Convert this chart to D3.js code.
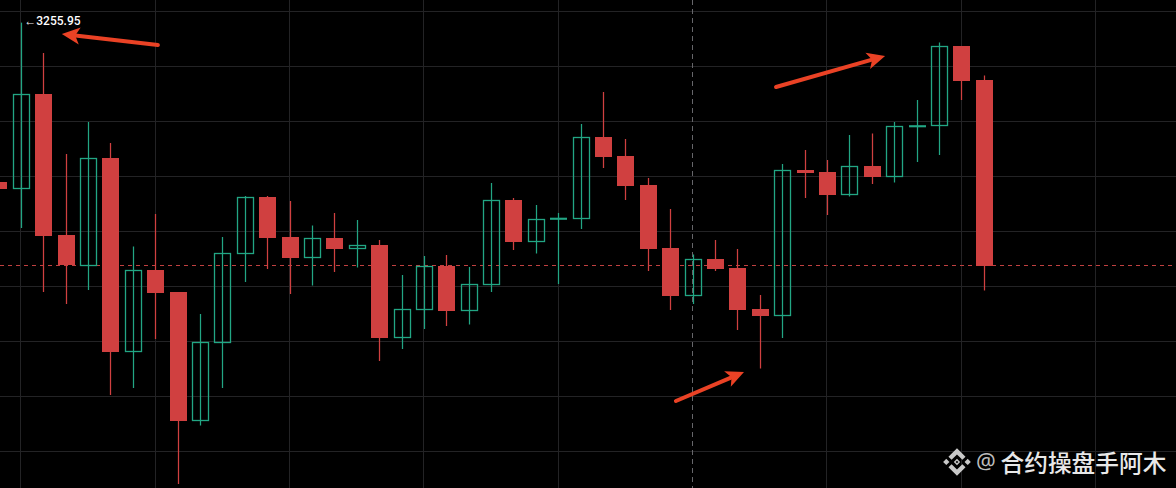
<!DOCTYPE html>
<html><head><meta charset="utf-8">
<script src="https://cdn.jsdelivr.net/npm/d3@7/dist/d3.min.js"></script>
<style>html,body{margin:0;padding:0;background:#000;overflow:hidden}svg{display:block}</style>
</head><body><svg id="c" width="1176" height="488"></svg>
<script>
// Candle values, index -1 is the partly hidden bar at the left edge
const opens  = [3198.00,3195.64,3230.00,3178.73,3167.64,3206.73,3136.36,3166.00,3158.00,3111.27,3139.64,3172.00,3192.55,3178.00,3170.55,3177.64,3173.82,3175.09,3141.45,3151.64,3167.45,3151.27,3160.73,3191.45,3176.36,3184.36,3184.73,3214.36,3207.45,3196.91,3174.00,3156.73,3170.00,3166.73,3151.82,3149.45,3202.36,3201.64,3193.45,3203.82,3200.00,3218.00,3218.55,3247.45,3235.09];
const highs  = [3198.00,3255.95,3244.91,3208.18,3219.82,3212.18,3174.55,3186.36,3158.00,3150.00,3178.00,3192.91,3192.91,3191.09,3182.18,3186.73,3184.18,3176.91,3164.18,3171.09,3171.45,3167.09,3197.64,3192.18,3189.64,3186.73,3219.09,3230.73,3213.64,3199.45,3188.18,3171.64,3176.91,3173.64,3156.91,3204.55,3209.64,3206.00,3215.09,3215.64,3219.82,3227.82,3248.73,3247.45,3236.73];
const lows   = [3195.45,3181.27,3158.00,3153.64,3158.73,3120.55,3123.09,3140.91,3088.18,3109.45,3123.09,3161.64,3166.36,3157.27,3160.36,3165.27,3166.91,3132.91,3137.27,3144.55,3145.64,3146.18,3158.00,3173.27,3172.00,3160.91,3180.91,3203.09,3191.45,3165.64,3151.45,3153.64,3165.64,3144.18,3130.18,3141.27,3192.18,3186.00,3192.73,3197.27,3197.82,3205.27,3207.82,3227.82,3158.55];
const closes = [3195.45,3229.82,3178.36,3167.64,3206.55,3136.18,3165.82,3157.64,3111.09,3139.64,3172.00,3192.36,3177.64,3170.36,3177.45,3173.64,3174.91,3141.27,3151.64,3167.27,3151.09,3160.73,3191.27,3176.18,3184.36,3184.91,3214.18,3207.09,3196.55,3173.64,3156.55,3169.82,3166.36,3151.45,3149.27,3202.18,3201.27,3193.27,3203.64,3199.82,3218.18,3218.55,3247.27,3234.73,3167.45];
const firstIndex = -1;
const gridPrices = [3260,3240,3220,3200,3180,3160,3140,3120,3100];
const gridIndexes = [0,6,12,18,24,36,42,48];
const crosshairIndex = 30;
const lastPrice = 3167.64;
const highLabel = "3255.95";
const arrowTails = [[6.1,3247.82],[33.7,3232.55],[29.23,3118.36]];
const arrowHeads = [[1.81,3251.82],[38.57,3243.82],[32.27,3128.91]];
const watermarkName = "合约操盘手阿木";

const W=1176,H=488;
const RED="#d04040",GREEN="#22a684",ARROW="#ea4225";
const x=d3.scaleLinear().domain([0,43]).range([21.3,984.3]);
const y=d3.scaleLinear().domain([3260,3100]).range([11.5,451.5]);
const svg=d3.select("#c");
svg.append("rect").attr("width",W).attr("height",H).attr("fill","#000");

const px=v=>Math.round(v-0.5)+0.5;
const g=svg.append("g").attr("shape-rendering","crispEdges");
g.selectAll("line.h").data(gridPrices).join("line").attr("class","h")
 .attr("x1",0).attr("x2",W).attr("y1",d=>px(y(d))).attr("y2",d=>px(y(d))).attr("stroke","#232325");
g.selectAll("line.v").data(gridIndexes).join("line").attr("class","v")
 .attr("x1",d=>px(x(d)-0.6)).attr("x2",d=>px(x(d)-0.6)).attr("y1",0).attr("y2",H).attr("stroke","#232325");

g.append("line").attr("x1",0).attr("x2",W).attr("y1",px(y(lastPrice))).attr("y2",px(y(lastPrice)))
 .attr("stroke","#c04040").attr("stroke-dasharray","4 4");

const candles=opens.map((o,k)=>({i:k+firstIndex,o,h:highs[k],l:lows[k],c:closes[k],up:closes[k]>=o}));
const cg=svg.append("g");
cg.selectAll("line.w").data(candles).join("line").attr("class","w")
 .attr("x1",d=>px(x(d.i))).attr("x2",d=>px(x(d.i)))
 .attr("y1",d=>y(d.h)).attr("y2",d=>y(d.l))
 .attr("stroke",d=>d.up?GREEN:RED).attr("stroke-width",1.25);
const isDoji=d=>y(d.o)-y(d.c)<2.5;
cg.selectAll("rect.up").data(candles.filter(d=>d.up&&!isDoji(d))).join("rect").attr("class","up")
 .attr("x",d=>px(x(d.i))-8).attr("width",16)
 .attr("y",d=>px(y(d.c))).attr("height",d=>px(y(d.o))-px(y(d.c)))
 .attr("fill","#000").attr("fill-opacity",0).attr("stroke",GREEN).attr("stroke-width",1.3);
cg.selectAll("rect.doji").data(candles.filter(d=>d.up&&isDoji(d))).join("rect").attr("class","doji")
 .attr("x",d=>px(x(d.i))-8.5).attr("width",17)
 .attr("y",d=>y(d.c)-0.3).attr("height",d=>Math.max(2,y(d.o)-y(d.c)+0.6))
 .attr("fill",GREEN);
cg.selectAll("rect.dn").data(candles.filter(d=>!d.up)).join("rect").attr("class","dn")
 .attr("shape-rendering","crispEdges")
 .attr("x",d=>px(x(d.i))-8.5).attr("width",17)
 .attr("y",d=>y(d.o)).attr("height",d=>Math.max(2,y(d.c)-y(d.o)))
 .attr("fill",RED);

svg.append("line").attr("shape-rendering","crispEdges")
 .attr("x1",px(x(crosshairIndex)-0.6)).attr("x2",px(x(crosshairIndex)-0.6)).attr("y1",0).attr("y2",H)
 .attr("stroke","#66666a").attr("stroke-dasharray","5 4");

// Arrows
arrowTails.forEach((t,k)=>{
  const h=arrowHeads[k];
  const x0=x(t[0]),y0=y(t[1]),x1=x(h[0]),y1=y(h[1]);
  const a=Math.atan2(y1-y0,x1-x0),ux=Math.cos(a),uy=Math.sin(a);
  const L=18,W1=8.5;
  const bx=x1-ux*L*0.75,by=y1-uy*L*0.75;
  svg.append("line").attr("x1",x0).attr("y1",y0).attr("x2",bx).attr("y2",by)
    .attr("stroke",ARROW).attr("stroke-width",4).attr("stroke-linecap","round");
  const p=[[x1,y1],[x1-ux*L-uy*W1,y1-uy*L+ux*W1],[bx,by],[x1-ux*L+uy*W1,y1-uy*L-ux*W1]];
  svg.append("path").attr("d",d3.line()(p)+"Z").attr("fill",ARROW);
});

// High label
svg.append("text").attr("x",x(0)+3).attr("y",y(+highLabel)+2.3)
 .attr("font-family","Roboto,sans-serif").attr("font-size",12).attr("fill","#f0f0f0").text("←");
svg.append("text").attr("x",x(0)+15).attr("y",y(+highLabel)+2.3)
 .attr("font-family","Roboto,sans-serif").attr("font-size",12).attr("font-weight",500).attr("fill","#ffffff").text(highLabel);

// Watermark
const logo=svg.append("g").attr("transform","translate(943,448) scale(0.222)").attr("fill","#c8c8c8");
["M38.73 53.2L63 28.93l24.28 24.28 14.12-14.12L63 .69 24.61 39.08z",
 "M.69 63l14.12-14.12L28.93 63 14.81 77.12z",
 "M38.73 72.8L63 97.07l24.28-24.28 14.13 14.11L63 125.31 24.61 86.92z",
 "M97.07 63l14.12-14.12L125.31 63l-14.12 14.12z",
 "M77.32 63L63 48.68 48.68 63 63 77.32zM69 63l-6 6-6-6 6-6z"
].forEach(d=>logo.append("path").attr("d",d).attr("fill-rule","evenodd"));
svg.append("text").attr("x",976).attr("y",469).attr("font-family","'Noto Sans',sans-serif").attr("font-size",22).attr("fill","#bcbcbc").text("@");
svg.append("text").attr("x",1000.5).attr("y",471.5).attr("font-family","'Noto Sans CJK SC',sans-serif").attr("font-size",23.7).attr("font-weight",500).attr("fill","#e8e8e8").text(watermarkName);
</script></body></html>
